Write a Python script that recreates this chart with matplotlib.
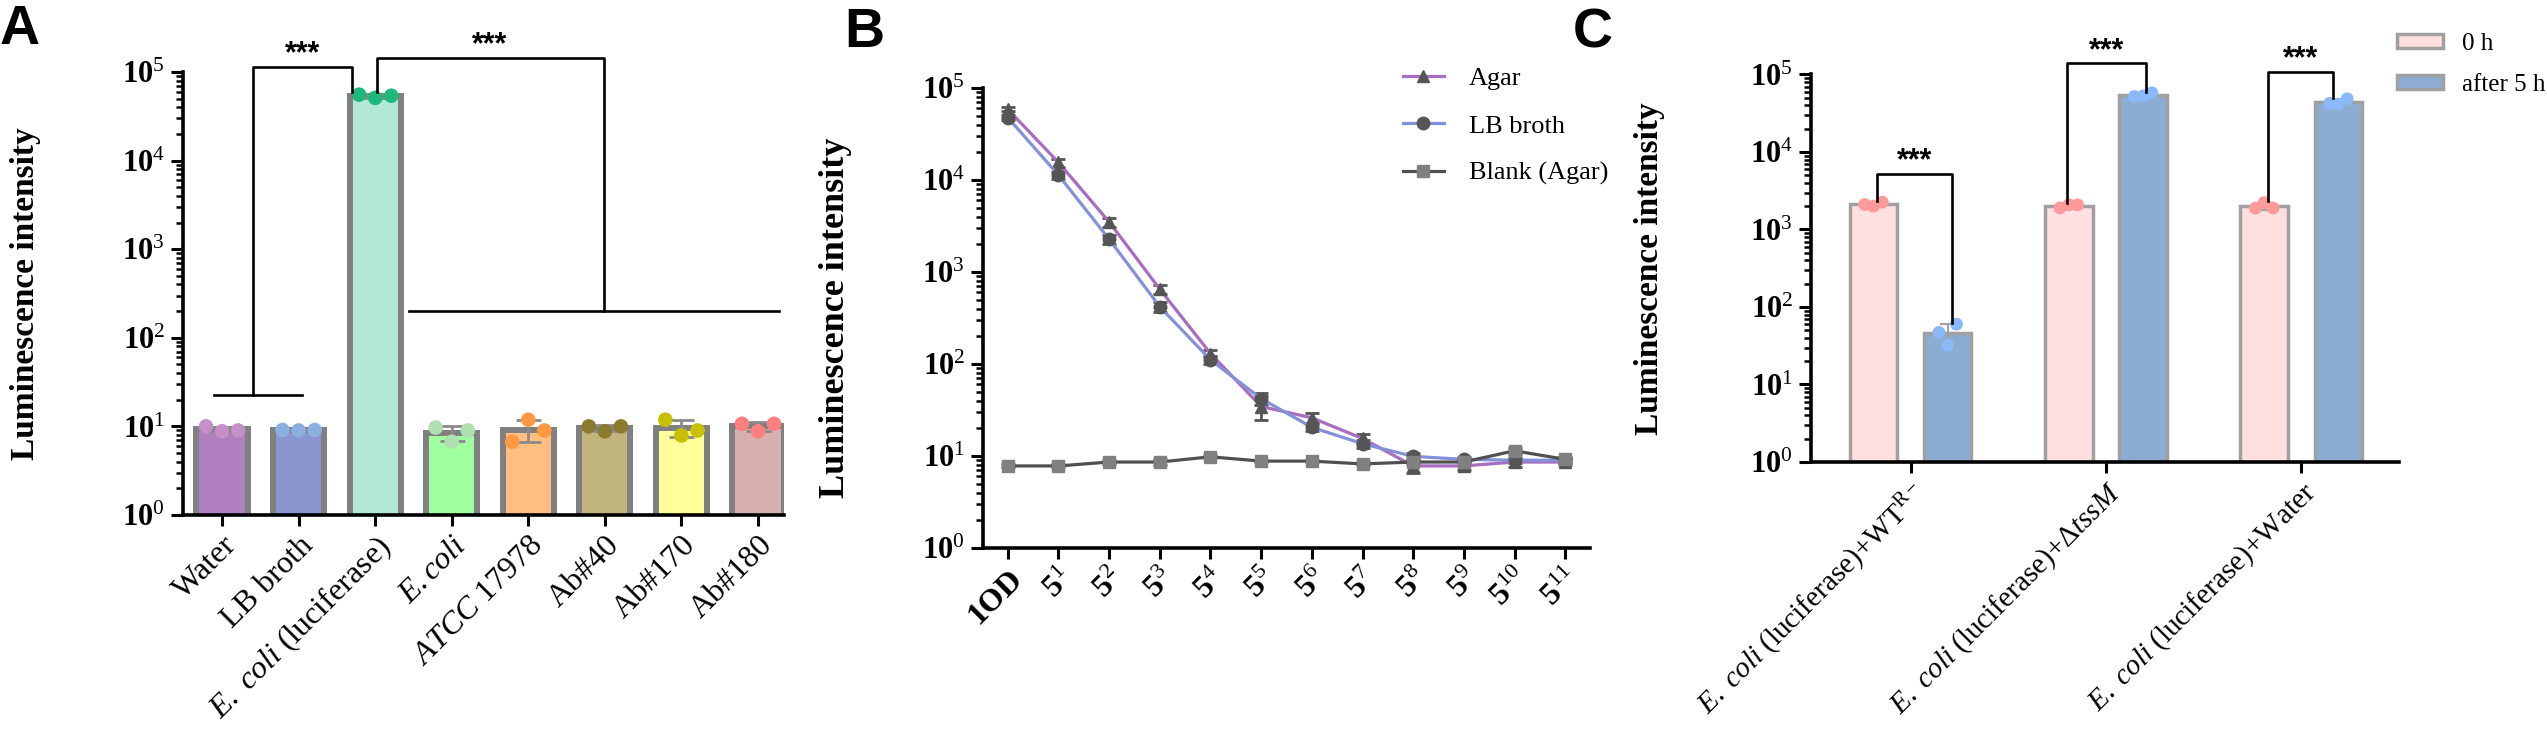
import numpy as np
import matplotlib
matplotlib.use("Agg")
import matplotlib.pyplot as plt
from matplotlib.ticker import LogLocator, NullFormatter, FixedLocator, FixedFormatter
from matplotlib.patches import Patch

plt.rcParams['font.family'] = ['Liberation Serif', 'DejaVu Serif']
plt.rcParams['mathtext.fontset'] = 'custom'
plt.rcParams['mathtext.rm'] = 'Liberation Serif'
plt.rcParams['mathtext.it'] = 'Liberation Serif:italic'
plt.rcParams['mathtext.bf'] = 'Liberation Serif:bold'

# ---------------- DATA ----------------
# Panel A
a_categories = ["Water", "LB broth", r"$\it{E.\ coli}$ (luciferase)", r"$\it{E.coli}$",
                r"$\it{ATCC\ 17978}$", "Ab#40", "Ab#170", "Ab#180"]
a_rep1 = [10.0, 9.1, 55500, 9.7, 6.7, 10.0, 11.9, 10.7]
a_rep2 = [8.8, 9.0, 51000, 6.7, 11.9, 8.8, 7.9, 8.8]
a_rep3 = [9.0, 9.1, 54000, 9.0, 9.0, 10.0, 9.0, 10.7]
a_bar_colors = ["#B07FC0", "#8A94CE", "#B3E8D6", "#A0FF9F", "#FFBF80", "#C1B57D", "#FFFF99", "#D6AFAF"]
a_dot_colors = ["#C58FC9", "#8AB0E0", "#1DB87A", "#B0E0B0", "#FF9940", "#8B7B30", "#C8C000", "#FF7F7F"]

# Panel B
b_labels = ["1OD"] + ["5$^{%d}$" % k for k in range(1, 12)]
b_agar = [58600, 15500, 3500, 650, 130, 34.5, 26, 15.5, 7.8, 7.8, 8.6, 8.6]
b_agar_err = [3000, 1500, 400, 80, 12, 10, 3, 2, 1.2, 0.8, 1.0, 0.6]
b_lb = [47700, 11300, 2270, 419, 111, 42, 20.5, 13.6, 9.9, 9.2, 9.0, 9.0]
b_lb_err = [3000, 1000, 250, 50, 10, 6, 2, 1.5, 0.8, 0.6, 0.6, 0.6]
b_blank = [7.8, 7.8, 8.6, 8.6, 9.8, 8.8, 8.8, 8.2, 8.6, 8.6, 11.4, 9.2]
b_blank_err = [0.3, 0.3, 0.4, 0.6, 0.4, 0.3, 0.3, 0.3, 0.4, 0.4, 0.9, 0.6]
b_series_names = ["Agar", "LB broth", "Blank (Agar)"]

# Panel C
c_categories = [r"$\it{E.\ coli}$ (luciferase)+WT$^{\rm R-}$",
                r"$\it{E.\ coli}$ (luciferase)+Δ$\it{tssM}$",
                r"$\it{E.\ coli}$ (luciferase)+Water"]
c_0h_rep1 = [2100, 1900, 1890]
c_0h_rep2 = [2000, 2080, 2230]
c_0h_rep3 = [2250, 2080, 1890]
c_5h_rep1 = [47, 52000, 42400]
c_5h_rep2 = [32, 53000, 41300]
c_5h_rep3 = [60, 58000, 48700]
c_series_names = ["0 h", "after 5 h"]

y_tick_vals = [1, 10, 100, 1000, 10000, 100000]
y_tick_labels = ["10$^{%d}$" % k for k in range(6)]

# ---------------- FIGURE ----------------
W, H = 2547, 730
fig = plt.figure(figsize=(W / 100, H / 100), dpi=100)


def px_axes(x0, x1, ytop, ybot):
    return fig.add_axes([x0 / W, 1 - ybot / H, (x1 - x0) / W, (ybot - ytop) / H])


def style_log_axis(ax, tickfs):
    ax.set_yscale('log')
    ax.set_ylim(1, 1e5)
    for s in ['top', 'right']:
        ax.spines[s].set_visible(False)
    for s in ['left', 'bottom']:
        ax.spines[s].set_linewidth(2.6)
    ax.yaxis.set_major_locator(FixedLocator(y_tick_vals))
    ax.yaxis.set_major_formatter(FixedFormatter(y_tick_labels))
    ax.yaxis.set_minor_locator(LogLocator(base=10, subs=np.arange(2, 10), numticks=20))
    ax.yaxis.set_minor_formatter(NullFormatter())
    ax.tick_params(axis='y', which='major', length=9, width=2.2, labelsize=tickfs, pad=4)
    ax.tick_params(axis='y', which='minor', length=5, width=1.8)
    ax.tick_params(axis='x', which='major', length=8, width=2.2)
    for t in ax.get_yticklabels():
        t.set_fontweight('bold')


# ---------------- PANEL A ----------------
axA = px_axes(183, 784, 72, 515)
xa = np.arange(len(a_categories))
repsA = np.array([a_rep1, a_rep2, a_rep3])
meanA = repsA.mean(axis=0)
sdA = repsA.std(axis=0, ddof=1)
axA.bar(xa, meanA, width=0.67, color=a_bar_colors, edgecolor='#808080', linewidth=4.3, zorder=2)
axA.errorbar(xa, meanA, yerr=sdA, fmt='none', ecolor='#8a8a8a', elinewidth=2, capsize=9,
             capthick=2, zorder=3)
offs = [-0.21, 0.0, 0.21]
for k in range(3):
    axA.scatter(xa + offs[k], repsA[k], s=110, c=a_dot_colors, edgecolors='none', zorder=4)
axA.set_xlim(-0.51, 7.34)
style_log_axis(axA, 22)
axA.set_xticks(xa)
axA.set_xticklabels(a_categories, rotation=45, ha='right', rotation_mode='anchor', fontsize=23)
axA.set_ylabel("Luminescence intensity", fontsize=24, fontweight='bold')
axA.yaxis.set_label_coords(-0.236, 0.5)

lk = dict(color='black', lw=1.9, clip_on=False, zorder=5)
star = dict(textcoords='offset points', ha='center', va='center', fontsize=22,
            fontweight='bold', family='Liberation Sans', annotation_clip=False)
# bracket 1: Water/LB broth group vs E. coli (luciferase)
axA.plot([-0.1, 1.04], [22.6, 22.6], **lk)
axA.plot([0.40, 0.40, 1.70, 1.70], [22.6, 1.14e5, 1.14e5, 6.0e4], **lk)
axA.annotate("***", xy=(1.05, 1.14e5), xytext=(0, 9), **star)
# bracket 2: E. coli (luciferase) vs the rest
axA.plot([2.44, 7.27], [203, 203], **lk)
axA.plot([4.99, 4.99, 2.02, 2.02], [203, 1.44e5, 1.44e5, 6.0e4], **lk)
axA.annotate("***", xy=(3.5, 1.44e5), xytext=(0, 9), **star)

# ---------------- PANEL B ----------------
axB = px_axes(983, 1590, 88, 548)
xb = np.arange(len(b_labels))
series_b = [(b_agar, b_agar_err, '#A86CC0', '^', '#555555'),
            (b_lb, b_lb_err, '#8490D8', 'o', '#555555'),
            (b_blank, b_blank_err, '#505050', 's', '#808080')]
handles = []
for (vals, err, lc, mk, mc), name in zip(series_b, b_series_names):
    axB.errorbar(xb, vals, yerr=err, fmt='none', ecolor='#555555', elinewidth=2, capsize=5,
                 capthick=2, zorder=3)
    h, = axB.plot(xb, vals, color=lc, lw=2.3, marker=mk, markersize=9, markerfacecolor=mc,
                  markeredgecolor=mc, label=name, zorder=4)
    handles.append(h)
axB.set_xlim(-0.49, 11.49)
style_log_axis(axB, 22)
axB.set_xticks(xb)
axB.set_xticklabels(b_labels, rotation=45, ha='right', rotation_mode='anchor', fontsize=23,
                    fontweight='bold')
axB.set_ylabel("Luminescence intensity", fontsize=26, fontweight='bold')
axB.yaxis.set_label_coords(-0.216, 0.5)
fig.legend(handles=handles, loc='upper left', bbox_to_anchor=(1403 / W, 1 - 67 / H),
           frameon=False, fontsize=19, handlelength=1.55, handletextpad=0.95,
           labelspacing=0.9, borderpad=0, borderaxespad=0)

# ---------------- PANEL C ----------------
axC = px_axes(1811, 2399, 74.5, 462)
xc = np.arange(len(c_categories))
reps0 = np.array([c_0h_rep1, c_0h_rep2, c_0h_rep3])
reps5 = np.array([c_5h_rep1, c_5h_rep2, c_5h_rep3])
m0, s0 = reps0.mean(axis=0), reps0.std(axis=0, ddof=1)
m5, s5 = reps5.mean(axis=0), reps5.std(axis=0, ddof=1)
bw = 0.243
dx = 0.19
axC.bar(xc - dx, m0, width=bw, color='#FFDFDF', edgecolor='#A0A0A0', linewidth=2.5, zorder=2,
        label=c_series_names[0])
axC.bar(xc + dx, m5, width=bw, color='#8CACD4', edgecolor='#A0A0A0', linewidth=2.5, zorder=2,
        label=c_series_names[1])
axC.errorbar(xc - dx, m0, yerr=s0, fmt='none', ecolor='#A0A0A0', elinewidth=1.5, capsize=6,
             capthick=1.5, zorder=3)
axC.errorbar(xc + dx, m5, yerr=s5, fmt='none', ecolor='#A0A0A0', elinewidth=1.5, capsize=6,
             capthick=1.5, zorder=3)
offc = [-0.045, 0.0, 0.045]
for k in range(3):
    axC.scatter(xc - dx + offc[k], reps0[k], s=85, color='#FF9A9A', edgecolors='none', zorder=4)
    axC.scatter(xc + dx + offc[k], reps5[k], s=85, color='#8AB8F8', edgecolors='none', zorder=4)
axC.set_xlim(-0.51, 2.50)
style_log_axis(axC, 22)
axC.set_xticks(xc)
axC.set_xticklabels(c_categories, rotation=45, ha='right', rotation_mode='anchor', fontsize=21)
axC.set_ylabel("Luminescence intensity", fontsize=24, fontweight='bold')
axC.yaxis.set_label_coords(-0.248, 0.5)

brk = [(-0.17, 0.21, 5250, 2300, 62), (-0.2, 0.205, 1.39e5, 2200, 6.0e4),
       (-0.169, 0.164, 1.07e5, 2300, 5.0e4)]
for i, (l, r, top, lb, rb) in enumerate(brk):
    axC.plot([i + l, i + l, i + r, i + r], [lb, top, top, rb], **lk)
    axC.annotate("***", xy=(i + (l + r) / 2, top), xytext=(0, 9), **star)

fig.legend(handles=[Patch(facecolor='#FFDFDF', edgecolor='#A0A0A0', linewidth=2.5),
                    Patch(facecolor='#8CACD4', edgecolor='#A0A0A0', linewidth=2.5)],
           labels=c_series_names, loc='upper left', bbox_to_anchor=(2397 / W, 1 - 33 / H),
           frameon=False, fontsize=18, handlelength=1.85, handleheight=0.5, handletextpad=0.75,
           labelspacing=0.75, borderpad=0, borderaxespad=0)

# ---------------- PANEL LETTERS ----------------
for letter, xpx, base in [("A", 0, 44), ("B", 844, 47), ("C", 1573, 47)]:
    fig.text(xpx / W, 1 - base / H, letter, ha='left', va='baseline', fontsize=40,
             fontweight='bold', family='Liberation Sans')

fig.savefig("out.png", dpi=100)
